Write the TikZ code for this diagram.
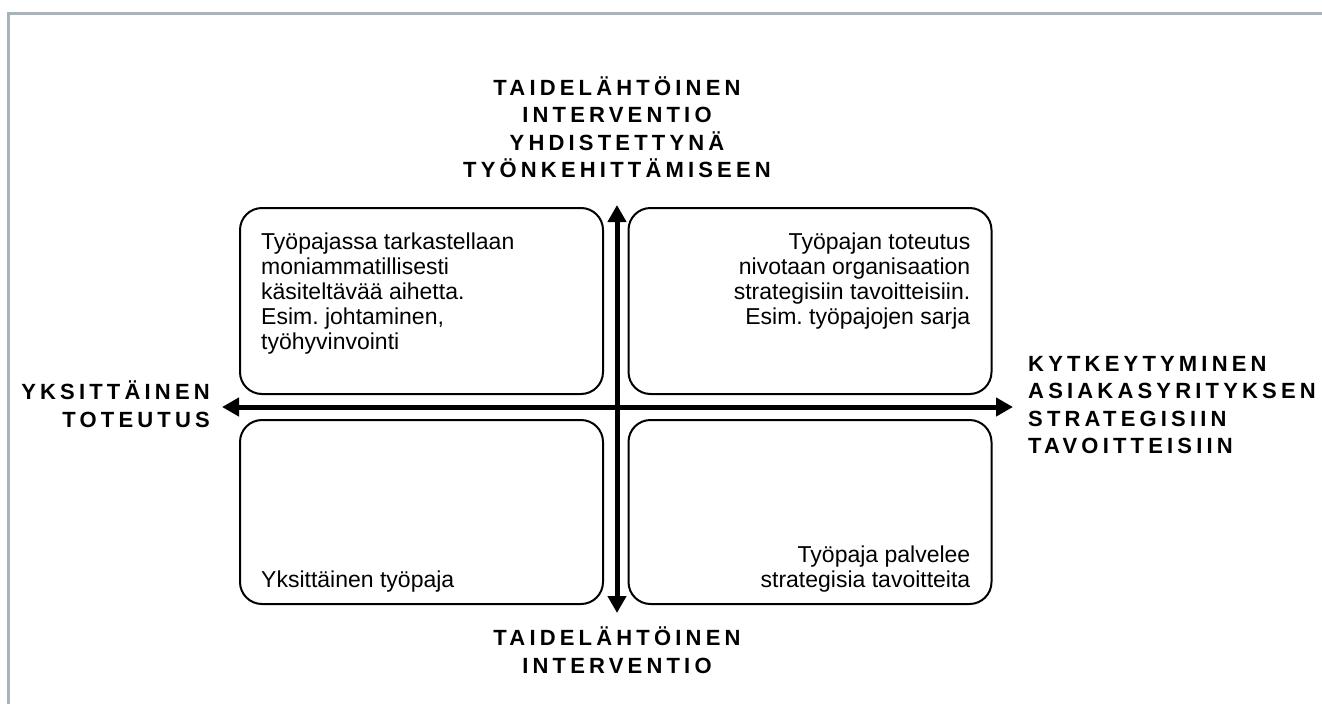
\documentclass[tikz,border=0pt]{standalone}
\usepackage{fontspec}
\setmainfont{Liberation Sans}
\newfontfamily\axisfont[LetterSpace=19]{Liberation Sans}
\usepackage{tikz}
\usetikzlibrary{positioning,arrows.meta}
\definecolor{framegrey}{RGB}{168,180,188}

\begin{document}
\begin{tikzpicture}[x=1pt, y=-1pt,
        quad/.style={draw, line width=2pt, rounded corners=22pt, minimum width=363pt, minimum height=186pt, inner sep=0pt},
        boxtext/.style={font=\fontsize{23}{25}\selectfont, inner sep=0pt},
        axislabel/.style={font=\axisfont\bfseries\fontsize{22}{27.5}\selectfont, inner sep=0pt},
        axis/.style={line width=5pt, {Triangle[width=18pt,length=17pt]}-{Triangle[width=18pt,length=17pt]}}]
                \useasboundingbox (0,0) rectangle (1322,704);
                \draw[framegrey, line width=3pt] (1322,13) -- (8,13) -- (8,704);

                \node[quad] (tl) at (421.5,301) {};
                \node[quad] (tr) at (810,301) {};
                \node[quad, minimum height=184pt] (bl) at (421.5,512) {};
                \node[quad, minimum height=184pt] (br) at (810,512) {};

                \node[boxtext, align=left, below right=26pt and 22pt of tl.north west] (tltext)
                    {Työpajassa tarkastellaan\\moniammatillisesti\\käsiteltävää aihetta.\\Esim.\ johtaminen,\\työhyvinvointi};
                \node[boxtext, align=right, below left=26pt and 22pt of tr.north east] (trtext)
                    {Työpajan toteutus\\nivotaan organisaation\\strategisiin tavoitteisiin.\\Esim.\ työpajojen sarja};
                \node[boxtext, align=left, above right=13pt and 22pt of bl.south west] (bltext)
                    {Yksittäinen työpaja};
                \node[boxtext, align=right, above left=13pt and 22pt of br.south east] (brtext)
                    {Työpaja palvelee\\strategisia tavoitteita};

                \coordinate (n) at (617,205);
                \coordinate (s) at (617,613);
                \coordinate (w) at (222,407);
                \coordinate (e) at (1013,407);

                \path (s) edge[axis] (n)
                    (w) edge[axis] (e)
                    ;

                \node[axislabel, align=center, above=27pt of n] (toplabel)
                    {TAIDELÄHTÖINEN\\INTERVENTIO\\YHDISTETTYNÄ\\TYÖNKEHITTÄMISEEN};
                \node[axislabel, align=center, below=14pt of s] (bottomlabel)
                    {TAIDELÄHTÖINEN\\INTERVENTIO};
                \node[axislabel, align=right, left=12pt of w, yshift=3pt] (leftlabel)
                    {YKSITTÄINEN\\TOTEUTUS};
                \node[axislabel, align=left, right=15pt of e, yshift=2pt] (rightlabel)
                    {KYTKEYTYMINEN\\ASIAKASYRITYKSEN\\STRATEGISIIN\\TAVOITTEISIIN};
            \end{tikzpicture}
\end{document}
